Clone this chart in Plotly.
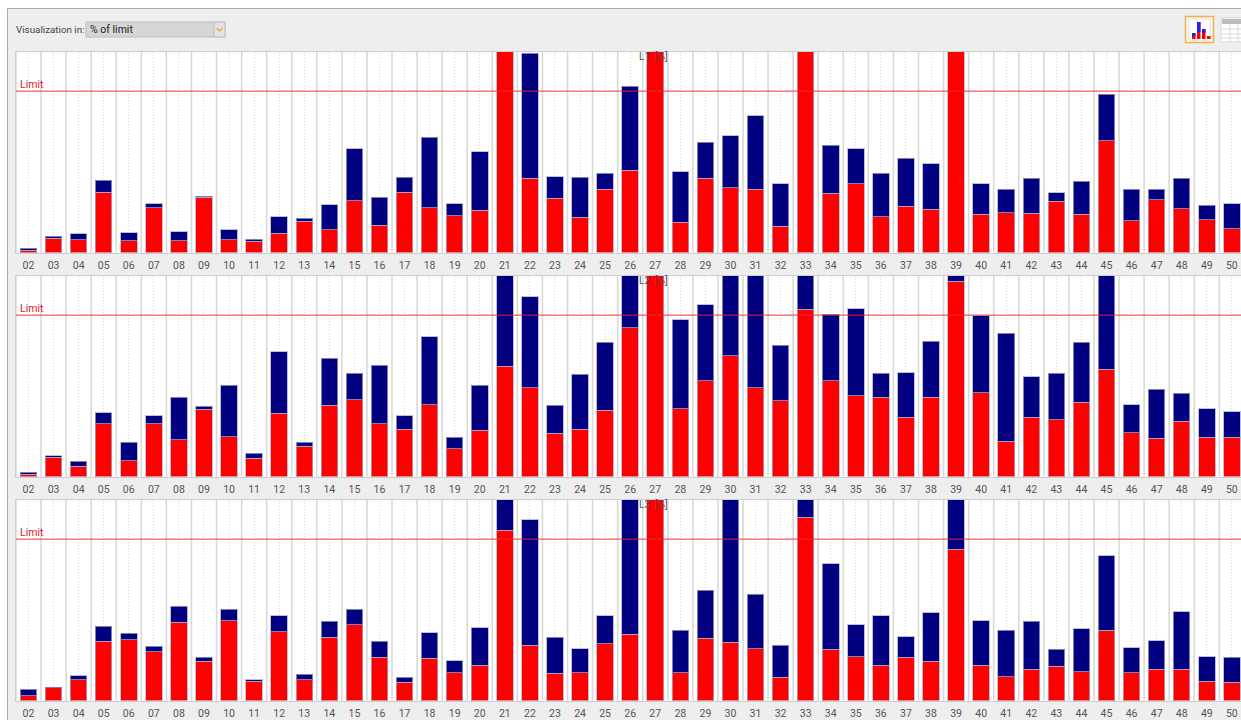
import plotly.graph_objects as go

weeks = [f"{i:02d}" for i in range(2, 51)]

l1_red = [1.3,8.8,8.1,37.8,7.5,28.1,7.5,34.4,8.1,6.9,11.9,19.4,14.1,32.2,16.9,37.8,28.1,23.1,26.3,130,
          46.3,33.8,21.9,39.4,51.3,130,18.8,46.3,40.6,39.4,16.3,130,36.9,43.1,22.5,28.8,26.9,130,
          23.8,25,24.4,31.9,23.8,70,20,33.1,27.5,20.6,15]
l1_blue = [1.5,1.5,3.5,7.5,5,2.5,5.6,0.9,6,1.5,10.6,1.9,15.6,32.8,17.5,9.1,43.8,7.5,36.8,0,
           78.1,13.7,25,10,52.5,0,31.8,22.5,32.5,46.2,26.8,0,30,21.9,26.9,30,28.7,0,
           19.3,14.4,21.9,5.6,20.6,28.8,19.4,6.3,18.8,8.8,15.6]
l2_red = [1.3,11.9,6.3,33.1,10,33.1,23.1,41.9,25,11.3,39.4,18.8,44.4,48.1,33.1,29.4,45,17.5,28.8,68.8,
          55.6,26.9,29.4,41.3,93.1,130,42.5,60,75.6,55.6,47.5,104.4,60,50.6,49.4,36.9,49.4,121.9,
          52.5,21.9,36.9,35.6,46.3,66.9,27.5,23.8,34.4,24.4,24.4]
l2_blue = [1.5,1.2,3.1,6.9,11.3,5,26.3,1.9,31.9,3.1,38.7,2.5,29.4,16.3,36.3,8.7,42.5,6.9,28.1,60,
           56.9,17.5,34.4,42.5,40,0,55.6,47.5,55,75,34.4,25,41.3,54.4,15,28.1,35,10,
           48.1,67.5,25.6,28.8,37.5,65,17.5,30.6,17.5,18.1,16.2]
l3_red = [3.1,8.1,13.1,36.9,38.1,30.6,48.8,24.4,50,11.9,43.1,13.1,39.4,47.5,26.9,11.3,26.3,17.5,21.9,106.3,
          34.4,16.9,17.5,35.6,41.3,130,17.5,38.8,36.3,32.5,14.4,114.4,31.9,27.5,21.9,26.9,24.4,94.4,
          21.9,15,19.4,21.3,18.1,43.8,17.5,19.4,19.4,11.9,11.3]
l3_blue = [3.8,0.3,2.5,9.4,3.8,3.2,10,2.5,6.9,1.2,10,3.2,10,9.4,10,3.1,16.2,7.5,23.7,25,
           78.7,22.5,15,17.5,90,0,26.3,30,95,33.8,20,15,53.7,20,31.2,13.1,30.6,40,
           28.1,28.8,30,10.6,26.9,46.8,15.6,18.1,36.2,15.6,15.6]
limit_value = 100.8
panel_names = ["L1", "L2", "L3"]
panel_red = [l1_red, l2_red, l3_red]
panel_blue = [l1_blue, l2_blue, l3_blue]

W, H = 1241, 720
TOPS = [51.5, 275.5, 499.5]
PANEL_H = 201
PX_PER_UNIT = 1.6
FONT = "Roboto"
px = lambda x: x / W
py = lambda y: 1 - y / H

fig = go.Figure()
shapes, annotations = [], []


def rect(x0, y0, x1, y1, fill, line="rgba(0,0,0,0)", lw=1):
    shapes.append(dict(type="rect", xref="paper", yref="paper", x0=px(x0), x1=px(x1),
                       y0=py(y0), y1=py(y1), fillcolor=fill,
                       line=dict(color=line, width=lw), layer="above"))


# window chrome: grey paper, white strips outside the window frame
rect(0, 0, 7, 720, "#ffffff")
rect(0, 0, 1241, 8, "#ffffff")
shapes.append(dict(type="line", xref="paper", yref="paper", x0=px(7.5), x1=px(7.5), y0=0, y1=py(8.5),
                   line=dict(color="#aaaaaa", width=1)))
shapes.append(dict(type="line", xref="paper", yref="paper", x0=px(7.5), x1=1, y0=py(8.5), y1=py(8.5),
                   line=dict(color="#aaaaaa", width=1)))
rect(86, 22, 225, 37, "#d6d6d6", "#bdbdbd", 1)
rect(214, 22, 225, 37, "#e4e4e4", "#bdbdbd", 1)
annotations.append(dict(xref="paper", yref="paper", x=px(14), y=py(30), text="Visualization in:",
                        showarrow=False, xanchor="left", yanchor="middle",
                        font=dict(family=FONT, size=9.8, color="#444444")))
annotations.append(dict(xref="paper", yref="paper", x=px(88.5), y=py(30), text="% of limit",
                        showarrow=False, xanchor="left", yanchor="middle",
                        font=dict(family=FONT, size=10.5, color="#222222")))
shapes.append(dict(type="path", xref="paper", yref="paper",
                   path=f"M {px(216.5)} {py(28)} L {px(219.5)} {py(31)} L {px(222.5)} {py(28)}",
                   line=dict(color="#f0a030", width=1.2)))
# chart / table toggle icons
rect(1185.5, 16.5, 1213.5, 42.5, "#f6f6f6", "#f5b041", 1.5)
rect(1189, 19, 1210, 40, "#ffffff", "#dddddd", 1)
for x0, top, mid in [(1192, 33, 36), (1197, 22, 32), (1202, 29, 33), (1207, 36, 36)]:
    rect(x0, top, x0 + 3.5, 39, "#ff0000")
    rect(x0, top, x0 + 3.5, mid, "#2222ee")
rect(1221, 18, 1250, 42, "#ffffff", "#d8d8d8", 1)
rect(1222, 19, 1250, 24, "#bcbcbc")
for y in (29, 34, 38):
    shapes.append(dict(type="line", xref="paper", yref="paper", x0=px(1222), x1=px(1241),
                       y0=py(y), y1=py(y), line=dict(color="#d8d8d8", width=1)))
for x in (1230, 1238):
    shapes.append(dict(type="line", xref="paper", yref="paper", x0=px(x), x1=px(x),
                       y0=py(24), y1=py(42), line=dict(color="#d8d8d8", width=1)))

x_first, x_step = 28.5, 25.07
x_range = [(16 - x_first) / x_step, (W - x_first) / x_step]
axis_updates = {}
for k, (name, red, blue, top) in enumerate(zip(panel_names, panel_red, panel_blue, TOPS)):
    sfx = "" if k == 0 else str(k + 1)
    xa, ya = "x" + sfx, "y" + sfx
    fig.add_bar(x=weeks, y=red, xaxis=xa, yaxis=ya, name=f"{name} part 1", showlegend=False,
                marker=dict(color="#ff0000", line=dict(color="rgba(170,170,200,0.75)", width=1)),
                width=0.66)
    fig.add_bar(x=weeks, y=blue, xaxis=xa, yaxis=ya, name=f"{name} part 2", showlegend=False,
                marker=dict(color="#000080", line=dict(color="rgba(170,170,200,0.75)", width=1)),
                width=0.66)
    axis_updates["xaxis" + sfx] = dict(
        type="category", categoryorder="array", categoryarray=weeks, range=x_range,
        domain=[px(16), 1], anchor=ya, showgrid=True, griddash="1px,2px", gridcolor="#d8d8d8", gridwidth=1,
        showline=True, linecolor="#cfcfcf", linewidth=1, mirror=True,
        ticks="outside", ticklen=3, tickcolor="rgba(0,0,0,0)", tickangle=0,
        tickfont=dict(family=FONT, size=10.5, color="#555555"), zeroline=False, fixedrange=True)
    axis_updates["yaxis" + sfx] = dict(
        range=[0, PANEL_H / PX_PER_UNIT], domain=[py(top + PANEL_H), py(top)], anchor=xa,
        showgrid=False, showticklabels=False, ticks="", zeroline=False, fixedrange=True,
        showline=True, linecolor="#cfcfcf", linewidth=1, mirror=True)
    # separators between categories
    for i in range(len(weeks) + 1):
        shapes.append(dict(type="line", xref=xa, yref=ya + " domain", x0=i - 0.5, x1=i - 0.5, y0=0, y1=1,
                           line=dict(color="#d9d9d9", width=1.6), layer="below"))
    # limit line + label
    shapes.append(dict(type="line", xref=xa + " domain", yref=ya, x0=0, x1=1,
                       y0=limit_value, y1=limit_value, line=dict(color="rgba(235,40,50,0.75)", width=1.2),
                       layer="above"))
    annotations.append(dict(xref="paper", yref=ya, x=px(18), y=limit_value, yshift=-1.5, text="Limit",
                            showarrow=False, xanchor="left", yanchor="bottom",
                            font=dict(family=FONT, size=10.5, color="#e0202a")))
    annotations.append(dict(xref="paper", yref="paper", x=px(637), y=py(top + 5.5), text=f"{name}",
                            showarrow=False, xanchor="left", yanchor="middle",
                            font=dict(family=FONT, size=10, color="#555555")))
    annotations.append(dict(xref="paper", yref="paper", x=px(653), y=py(top + 5.5), text="[%]",
                            showarrow=False, xanchor="left", yanchor="middle",
                            font=dict(family=FONT, size=10, color="#7a3a50")))

fig.update_layout(
    width=W, height=H, margin=dict(l=0, r=0, t=0, b=0), barmode="stack", bargap=0.33,
    paper_bgcolor="#eeeeee", plot_bgcolor="#ffffff", showlegend=False,
    shapes=shapes, annotations=annotations, **axis_updates)

fig.write_html("out.html", config={"displayModeBar": False},
               post_script="document.body.style.margin='0';document.body.style.overflow='hidden';")
